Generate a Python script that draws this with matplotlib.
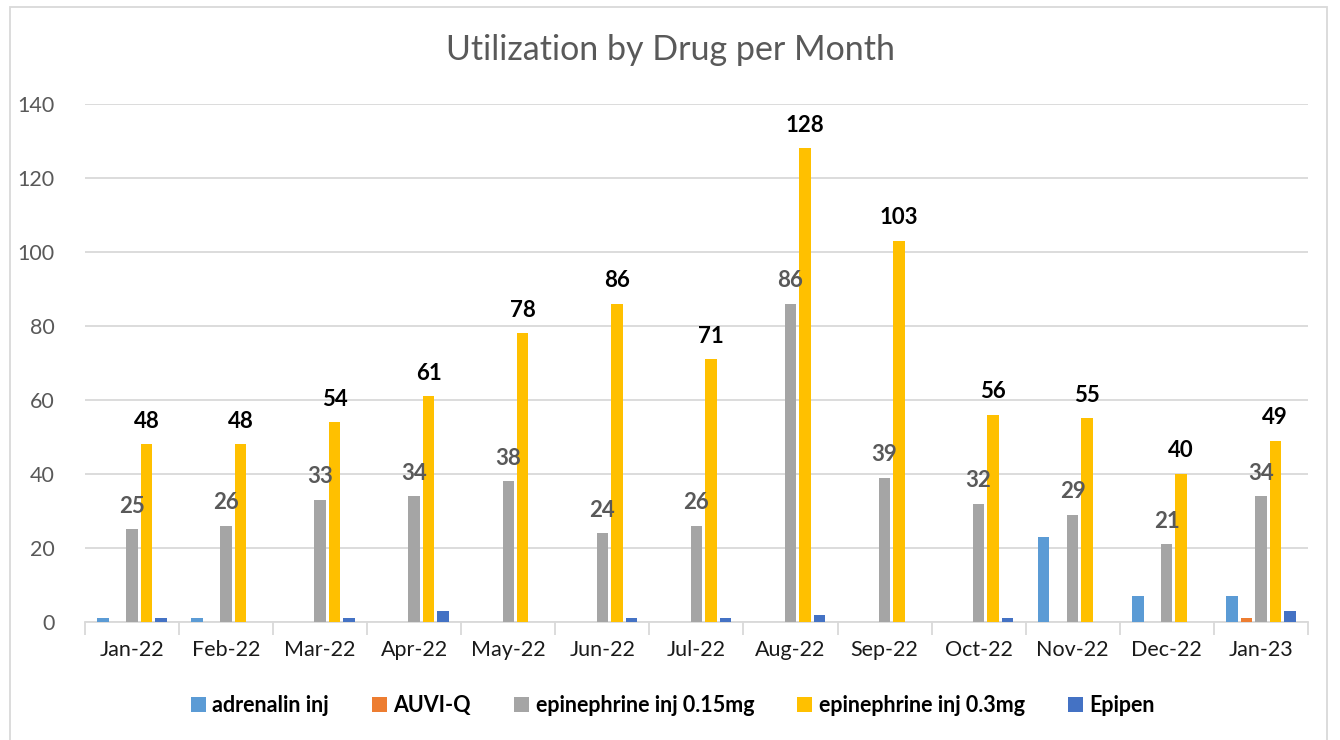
import numpy as np
import matplotlib.pyplot as plt
from matplotlib.patches import Rectangle

months = ["Jan-22", "Feb-22", "Mar-22", "Apr-22", "May-22", "Jun-22", "Jul-22",
          "Aug-22", "Sep-22", "Oct-22", "Nov-22", "Dec-22", "Jan-23"]
adrenalin = [1, 1, 0, 0, 0, 0, 0, 0, 0, 0, 23, 7, 7]
auviq = [0, 0, 0, 0, 0, 0, 0, 0, 0, 0, 0, 0, 1]
epi_015 = [25, 26, 33, 34, 38, 24, 26, 86, 39, 32, 29, 21, 34]
epi_03 = [48, 48, 54, 61, 78, 86, 71, 128, 103, 56, 55, 40, 49]
epipen = [1, 0, 1, 3, 0, 1, 1, 2, 0, 1, 0, 0, 3]

series = [
    ("adrenalin inj", adrenalin, "#5b9bd5"),
    ("AUVI-Q", auviq, "#ed7d31"),
    ("epinephrine inj 0.15mg", epi_015, "#a5a5a5"),
    ("epinephrine inj 0.3mg", epi_03, "#ffc000"),
    ("Epipen", epipen, "#4472c4"),
]

plt.rcParams['font.family'] = ['Lato', 'DejaVu Sans']

fig = plt.figure(figsize=(13.4, 7.4), dpi=100)
ax = fig.add_axes([0.0634, 0.1595, 0.9126, 0.70])

x = np.arange(len(months))
step = 0.154
width = 0.122
bars = {}
for i, (name, vals, col) in enumerate(series):
    bars[name] = ax.bar(x + (i - 2) * step, vals, width, color=col, label=name, zorder=3)

ax.bar_label(bars["epinephrine inj 0.15mg"], padding=9, fontsize=16, fontweight='bold',
             color='#595959')
ax.bar_label(bars["epinephrine inj 0.3mg"], padding=9, fontsize=16, fontweight='bold',
             color='black')

ax.set_xlim(-0.5, len(months) - 0.5)
ax.set_ylim(0, 140)
ax.set_yticks(range(0, 141, 20))
ax.yaxis.grid(True, color='#d9d9d9', linewidth=1.3, zorder=0)
ax.set_axisbelow(True)
ax.set_xticks(x)
ax.set_xticklabels(months)
ax.set_xticks(np.arange(-0.5, len(months)), minor=True)
ax.tick_params(axis='x', which='major', length=0, labelsize=15.5, pad=13, labelcolor='#1a1a1a')
ax.tick_params(axis='x', which='minor', length=9, color='#d9d9d9', width=1.3)
ax.tick_params(axis='y', length=0, labelsize=15.5, labelcolor='#595959', pad=22)
for s in ['top', 'right', 'left']:
    ax.spines[s].set_visible(False)
ax.spines['bottom'].set_color('#d9d9d9')
ax.spines['bottom'].set_linewidth(1.3)

fig.text(0.5, 0.932, "Utilization by Drug per Month", ha='center', va='center',
         fontsize=24.5, color='#595959')

fig.legend(loc='center', bbox_to_anchor=(0.502, 0.047), ncol=5, frameon=False,
           prop={'size': 15.5, 'weight': 'bold'}, handlelength=0.7, handleheight=0.7,
           handletextpad=0.3, columnspacing=2.0)

fig.patches.append(Rectangle((0.0075, -0.05), 0.983, 1.04, transform=fig.transFigure,
                             fill=False, edgecolor='#d9d9d9', linewidth=1.3))

fig.savefig("out.png", dpi=100)
